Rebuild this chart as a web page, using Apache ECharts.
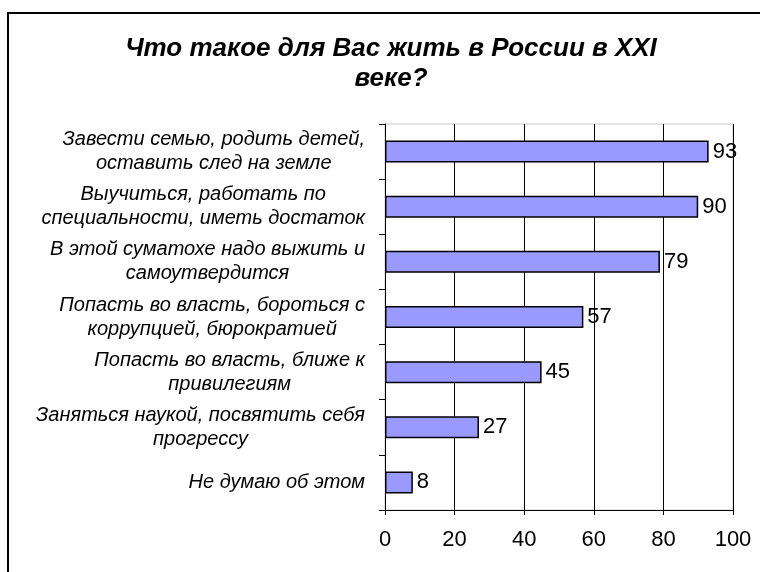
<!DOCTYPE html>
<html>
<head>
<meta charset="utf-8">
<script src="https://cdn.jsdelivr.net/npm/echarts@6/dist/echarts.min.js"></script>
<style>html,body{margin:0;padding:0;background:#fff}#chart{width:760px;height:572px}</style>
</head>
<body>
<div id="chart"></div>
<script>
const categories = [
  'Завести семью, родить детей,\nоставить след на земле',
  'Выучиться, работать по\nспециальности, иметь достаток',
  'В этой суматохе надо выжить и\nсамоутвердится',
  'Попасть во власть, бороться с\nкоррупцией, бюрократией',
  'Попасть во власть, ближе к\nпривилегиям',
  'Заняться наукой, посвятить себя\nпрогрессу',
  'Не думаю об этом'
]
const values = [93, 90, 79, 57, 45, 27, 8]
const titleText = 'Что такое для Вас жить в России в XXI\nвеке?'

const FONT = 'Liberation Sans, Arial, sans-serif'
const chart = echarts.init(document.getElementById('chart'))
chart.setOption({
  animation: false,
  graphic: [{
    type: 'rect', shape: { x: 8, y: 13, width: 768, height: 600 },
    style: { fill: 'none', stroke: '#000', lineWidth: 2 }, silent: true
  }, {
    // title centred on the chart area, like the original
    type: 'text', x: 391, y: 64, silent: true,
    style: {
      text: titleText, align: 'center', verticalAlign: 'middle',
      font: 'italic bold 26px ' + FONT, fill: '#000', lineHeight: 30
    }
  }],
  grid: { left: 385, right: 27, top: 124, bottom: 62, show: true, borderColor: '#c8c8c8', borderWidth: 1 },
  xAxis: {
    type: 'value', min: 0, max: 100, interval: 20,
    axisLine: { show: true, lineStyle: { color: '#000', width: 1 } },
    axisTick: { show: true, length: 5, lineStyle: { color: '#000' } },
    axisLabel: { fontFamily: FONT, fontSize: 22, color: '#000', margin: 19 },
    splitLine: { lineStyle: { color: '#000', width: 1 } }
  },
  yAxis: {
    type: 'category', data: categories, inverse: true,
    axisLine: { show: true, lineStyle: { color: '#000', width: 1 } },
    axisTick: { show: true, length: 6, lineStyle: { color: '#000' } },
    axisLabel: {
      margin: 20,
      formatter: v => v.split('\n').map(s => '{c|' + s + '}').join('\n'),
      rich: { c: { align: 'center', fontFamily: FONT, fontSize: 20, fontStyle: 'italic', color: '#000', lineHeight: 24 } }
    }
  },
  series: [{
    type: 'bar', data: values, barWidth: 22,
    itemStyle: { color: '#9999ff', borderColor: '#000', borderWidth: 1.5 },
    label: { show: true, position: 'right', distance: 4, fontFamily: FONT, fontSize: 22, color: '#000' }
  }]
})
</script>
</body>
</html>
